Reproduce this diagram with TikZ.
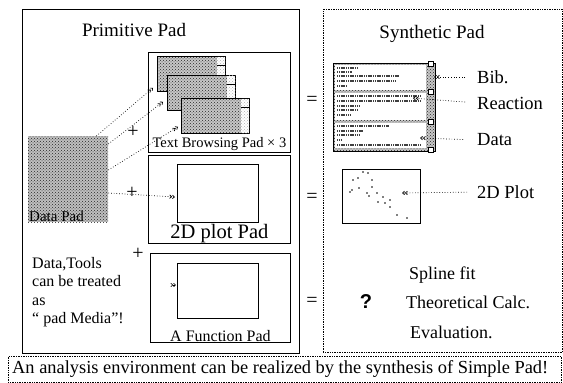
\documentclass[tikz,border=0pt]{standalone}
\usepackage{fontspec}
\setmainfont{Liberation Serif}
\newfontfamily\qfont{Liberation Sans}
\usetikzlibrary{positioning,patterns,arrows.meta}

\begin{document}
\begin{tikzpicture}[x=1pt,y=-1pt,>={Straight Barb[length=2pt,width=3.5pt]},
		frame/.style={draw, line width=0.9pt, anchor=north west, inner sep=0pt},
		dotframe/.style={draw, densely dotted, line width=0.7pt, anchor=north west, inner sep=0pt},
		screen/.style={draw, line width=0.8pt, anchor=north west, inner sep=0pt, preaction={fill=black!22}, pattern=crosshatch dots, pattern color=black!85},
		plotarea/.style={draw, line width=0.8pt, anchor=north west, inner sep=0pt, fill=white},
		link/.style={dotted, line width=0.7pt, ->>},
		heading/.style={font=\fontsize{19}{21}\selectfont},
		tag/.style={font=\fontsize{18.5}{20}\selectfont, anchor=west, inner sep=0pt},
		sign/.style={font=\fontsize{20}{20}\selectfont, inner sep=0pt},
		remarktext/.style={anchor=west, inner sep=0pt, font=\fontsize{18}{20}\selectfont},
		txtline/.style={line width=1.5pt, black!75, dash pattern=on 1.2pt off 0.6pt}]
		\useasboundingbox (0,0) rectangle (563,383);
		
		% outer frames
		\node [frame, minimum width=277, minimum height=344] (prim) at (22,9) {};
		\node [dotframe, minimum width=239, minimum height=343] (synth) at (323,9) {};
		\node [dotframe, minimum width=553, minimum height=26] (note) at (8,356) {};
		\node [heading] (primtitle) at (134,30) {Primitive Pad};
		\node [heading] (synthtitle) at (432,34) {Synthetic Pad};
		\node [anchor=west, inner sep=0pt, font=\fontsize{18.4}{20}\selectfont] (notetext) [right=4pt of note.west] {An analysis environment can be realized by the synthesis of Simple Pad!};
		
		% primitive pads
		\node [frame, minimum width=142, minimum height=100] (tbpad) at (148,52) {};
		\foreach \n/\x/\y in {1/157/56, 2/167/75, 3/181/98} {
			\node [screen, minimum width=68, minimum height=35] (win\n) at (\x,\y) {};
			\fill [white] ([xshift=-9pt,yshift=-0.5pt]win\n.north east) rectangle ([xshift=-0.5pt,yshift=0.5pt]win\n.south east);
			\path [pattern=crosshatch dots, pattern color=black!30] ([xshift=-9pt,yshift=-0.5pt]win\n.north east) rectangle ([xshift=-0.5pt,yshift=0.5pt]win\n.south east);
			\draw [line width=0.8pt] ([xshift=-9pt,yshift=-9pt]win\n.north east) -- ([yshift=-9pt]win\n.north east);
		}
		\node [font=\fontsize{14.5}{16}\selectfont, inner sep=1pt] (tblabel) [above=1pt of tbpad.south] {Text Browsing Pad × 3};
		
		\node [frame, minimum width=142, minimum height=88] (plotpad) at (148,155) {};
		\node [plotarea, minimum width=81, minimum height=58] (plotbox) at (177,164) {};
		\node [font=\fontsize{20.5}{22}\selectfont, inner sep=1pt] (plotlabel) [above=0pt of plotpad.south] {2D plot Pad};
		
		\node [frame, minimum width=140, minimum height=89] (funcpad) at (150,253) {};
		\node [plotarea, minimum width=81, minimum height=55] (funcbox) at (177,263) {};
		\node [font=\fontsize{16}{18}\selectfont, inner sep=1pt] (funclabel) [above=0pt of funcpad.south] {A Function Pad};
		
		\node [anchor=north west, inner sep=0pt, minimum width=80, minimum height=86, preaction={fill=black!25}, pattern=crosshatch dots, pattern color=black!85] (datapad) at (28,136) {};
		\node [anchor=south west, inner sep=1pt, font=\fontsize{15}{16}\selectfont] (datalabel) at (datapad.south west) {Data Pad};
		
		\node [sign] (plus1) at (133,132) {+};
		\node [sign] (plus2) at (132,193) {+};
		\node [sign] (plus3) at (138,254) {+};
		
		\node [anchor=north west, align=left, inner sep=0pt, font=\fontsize{16}{18.5}\selectfont] (remark) at (32,257) {Data,Tools\\can be treated\\as\\“ pad Media”!};
		
		% links from the data pad
		\coordinate (in1) at ([xshift=-4pt,yshift=4pt]win1.south west);
		\coordinate (in2) at ([xshift=-4pt,yshift=9pt]win2.south west);
		\coordinate (in3) at ([xshift=-3pt,yshift=7pt]win3.south west);
		\coordinate (in4) at ([xshift=-2pt,yshift=-33pt]plotbox.north west);
		\coordinate (in5) at ([xshift=-1pt,yshift=-22pt]funcbox.north west);
		\draw [link] ([xshift=-12pt]datapad.north east) -- (in1);
		\draw [link] ([yshift=-8pt]datapad.north east) -- (in2);
		\draw [link] ([yshift=-34pt]datapad.north east) -- (in3);
		\draw [link] ([yshift=-57pt]datapad.north east) -- (in4);
		\draw [->>, line width=0.6pt] ([xshift=-3pt]in5) -- (in5);
		
		\node [sign] (eq1) at (312,101) {=};
		\node [sign] (eq2) at (312,198) {=};
		\node [sign] (eq3) at (312,302) {=};
		
		% synthetic pad
		\node [screen, minimum width=102, minimum height=88] (synwin) at (333,63) {};
		\foreach \s/\y/\h in {1/65/25, 2/93/27, 3/123/25} {
			\node [anchor=north west, fill=white, inner sep=0pt, minimum width=91, minimum height=\h] (sec\s) at (335,\y) {};
			\draw [fill=white, line width=0.5pt] ([xshift=2pt,yshift=-1pt]sec\s.north east) rectangle ++(5,-5);
			\draw [fill=white, line width=0.5pt] ([xshift=2pt,yshift=1pt]sec\s.south east) rectangle ++(5,5);
		}
		\foreach \y/\l in {68/20, 72/15, 76/62, 81/58, 86/10, 96/84, 101/84, 106/22, 110/20, 115/14, 126/52, 131/26, 135/22, 140/5, 145/84}
			\draw [txtline] (337,\y) -- ++(\l,0);
		
		\node [plotarea, minimum width=78, minimum height=54] (synplot) at (342,169) {};
		\foreach \p in {(350,192),(352,190),(353,180),(358,178),(359,188),(363,172),(368,173),(367,193),(369,196),(372,180),(372,187),(377,193),(378,202),(383,197),(385,203),(390,200),(390,207),(397,215),(407,218)}
			\fill \p circle (0.8);
		
		\node [tag] (bib) at (477,77) {Bib.};
		\node [tag] (react) at (477,103) {Reaction};
		\node [tag] (datatag) at (477,140) {Data};
		\node [tag] (plottag) at (477,192) {2D Plot};
		\coordinate (c1) at (434,77);
		\coordinate (c2) at (413,98);
		\coordinate (c3) at (420,138);
		\coordinate (c4) at (402,193);
		\draw [link, shorten <=12pt] (bib.west) -- (c1);
		\draw [link, shorten <=12pt] (react.west) -- (c2);
		\draw [link, shorten <=14pt] (datatag.west) -- (c3);
		\draw [link, shorten <=10pt] (plottag.west) -- (c4);
		
		\node [remarktext] (spline) at (409,275) {Spline fit};
		\node [remarktext] (theo) at (406,302) {Theoretical Calc.};
		\node [remarktext] (evalu) at (410,332) {Evaluation.};
		\node [inner sep=0pt, font=\qfont\bfseries\fontsize{20}{20}\selectfont] (qmark) at (366,302) {?};
\end{tikzpicture}
\end{document}
